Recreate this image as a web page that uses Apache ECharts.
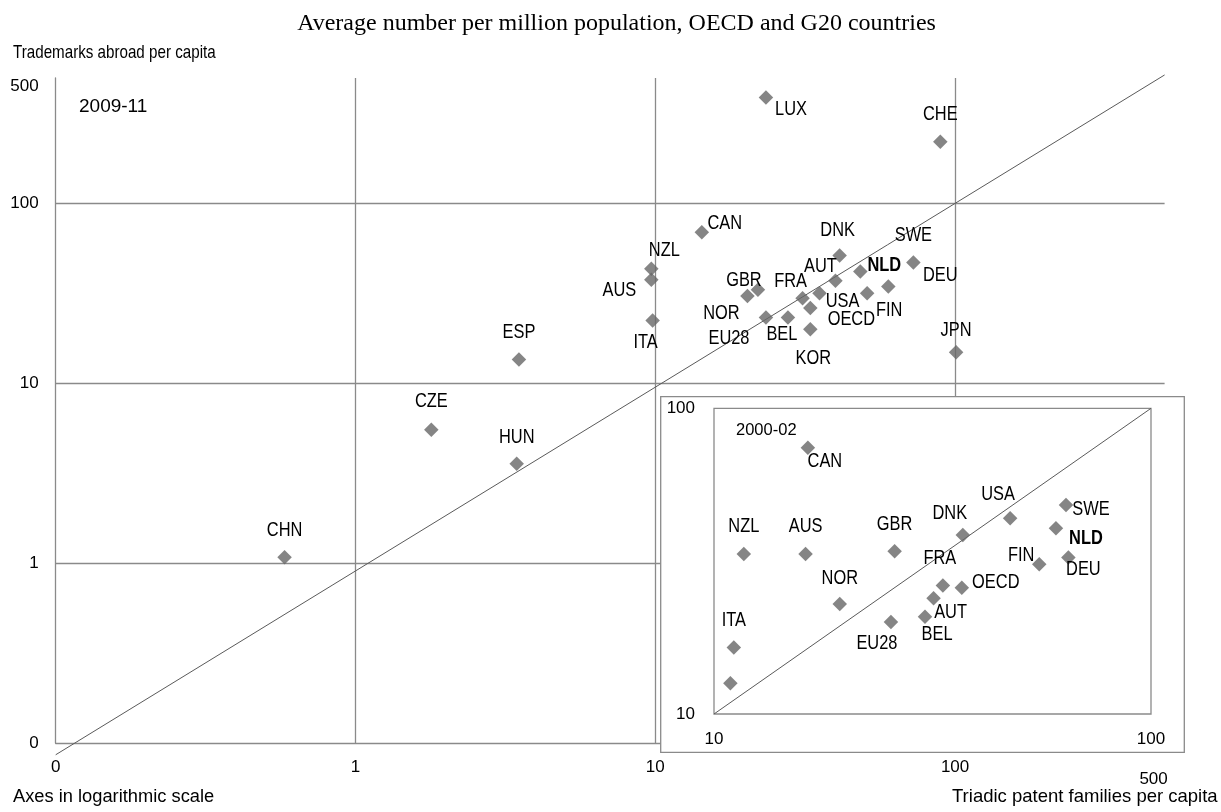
<!DOCTYPE html>
<html>
<head>
<meta charset="utf-8">
<script src="https://cdn.jsdelivr.net/npm/echarts@6/dist/echarts.min.js"></script>
<style>
  html, body { margin: 0; padding: 0; background: #fff; }
  #chart { width: 1221px; height: 812px; }
</style>
</head>
<body>
<div id="chart"></div>
<script>
// Average per million population, 2009-11
const countries2011 = ['LUX', 'CHE', 'CAN', 'NZL', 'AUS', 'ITA', 'GBR', 'NOR', 'EU28', 'BEL', 'KOR', 'FRA', 'OECD',
  'USA', 'AUT', 'DNK', 'NLD', 'FIN', 'DEU', 'SWE', 'JPN', 'ESP', 'CZE', 'HUN', 'CHN'];
const patents2011 = [23.4, 89.3, 14.3, 9.7, 9.7, 9.8, 22.0, 20.3, 23.4, 27.7, 32.9, 31.0, 32.9,
  35.3, 39.9, 41.2, 48.3, 50.9, 59.9, 72.6, 100.8, 3.51, 1.79, 3.45, 0.58];
const trademarks2011 = [390, 221, 69.3, 43.4, 37.7, 22.4, 33.2, 30.6, 23.3, 23.3, 20.0, 29.8, 26.3,
  31.7, 37.3, 51.4, 41.9, 31.7, 34.6, 47.0, 14.9, 13.6, 5.53, 3.58, 1.08];

// Average per million population, 2000-02
const countries2002 = ['CAN', 'NZL', 'AUS', 'GBR', 'NOR', 'EU28', 'ITA', '', 'BEL', 'AUT', 'FRA', 'OECD',
  'DNK', 'USA', 'FIN', 'NLD', 'SWE', 'DEU'];
const patents2002 = [16.4, 11.7, 16.2, 25.9, 19.4, 25.4, 11.1, 10.9, 30.4, 31.8, 33.4, 36.9,
  37.1, 47.6, 55.5, 60.6, 63.9, 64.7];
const trademarks2002 = [74.3, 33.4, 33.4, 34.1, 22.9, 20.0, 16.5, 12.6, 20.8, 23.9, 26.3, 25.9,
  38.5, 43.7, 30.9, 40.5, 48.3, 32.5];

// Parity reference lines
const parity2011 = [[0.1, 0.086], [500, 520]];
const parity2002 = [[10, 10], [100, 100]];

// Tick labels of the main log axes
const mainTickValues = [0.1, 1, 10, 100, 500];
const mainTickLabels = ['0', '1', '10', '100', '500'];

// Label placement (pixel offsets from each marker)
const labelOffsets2011 = [[25, 12], [0, -27], [23, -9], [13, -18], [-32, 11], [-7, 22], [-14, -9], [-26, 17],
  [-37, 21], [-6, 17], [3, 29], [-12, -17], [41, 12], [23, 8], [-15, -14], [-2, -25], [24, -6], [22, 17],
  [52, -11], [0, -27], [0, -22], [0, -27], [0, -28], [0, -26], [0, -27]];
const labelOffsets2002 = [[17, 14], [0, -27], [0, -27], [0, -27], [0, -26], [-14, 22], [0, -27], [0, 0],
  [12, 18], [17, 14], [-3, -27], [34, -5], [-13, -22], [-12, -24], [-18, -9], [30, 10], [25, 5], [15, 12]];

const GRID = '#8a8a8a';
const MARK = '#666666';
const SANS = "'Liberation Sans', Arial, sans-serif";
const SERIF = "'Liberation Serif', 'Times New Roman', serif";
const CONDENSE = 0.82;   // horizontal squeeze for the narrow label face

function pairs(xs, ys) {
  return xs.map((x, i) => [x, ys[i]]);
}

// Country codes drawn next to their markers, in a condensed face
function labelRenderer(names, offsets) {
  return function (params, api) {
    const i = params.dataIndex;
    const p = api.coord([api.value(0), api.value(1)]);
    const off = offsets[i];
    return {
      type: 'text',
      x: p[0] + off[0],
      y: p[1] + off[1],
      scaleX: CONDENSE,
      silent: true,
      style: {
        text: names[i],
        fontFamily: SANS,
        fontSize: 20,
        fontWeight: names[i] === 'NLD' ? 'bold' : 'normal',
        fill: '#000',
        align: 'center',
        verticalAlign: 'middle'
      }
    };
  };
}

function mainTickFormatter(v) {
  const i = mainTickValues.findIndex(t => Math.abs(t - v) / t < 1e-6);
  const s = i >= 0 ? mainTickLabels[i] : '';
  return v >= 500 ? '{edge|' + s + '}' : s;
}

const tickLabel = { color: '#000', fontFamily: SANS, fontSize: 17 };

const chart = echarts.init(document.getElementById('chart'), null, { renderer: 'canvas' });

chart.setOption({
  animation: false,
  backgroundColor: '#fff',
  grid: [
    { left: 55.7, top: 78, width: 1108.9, height: 665, outerBoundsMode: 'none' },
    { left: 714, top: 408.3, width: 437, height: 305.7, show: true, borderColor: GRID, borderWidth: 1.3,
      backgroundColor: 'transparent', z: 11, outerBoundsMode: 'none' }
  ],
  xAxis: [
    {
      gridIndex: 0, type: 'log', logBase: 10, min: 0.1, max: 500,
      axisLine: { show: true, lineStyle: { color: GRID, width: 1.3 } },
      axisTick: { show: false },
      splitLine: { show: true, showMinLine: false, showMaxLine: false, lineStyle: { color: GRID, width: 1.3 } },
      axisLabel: Object.assign({
        show: true, showMinLabel: true, showMaxLabel: true, margin: 16, formatter: mainTickFormatter,
        rich: { edge: Object.assign({ padding: [12, 22, 0, 0] }, tickLabel) }
      }, tickLabel)
    },
    {
      gridIndex: 1, type: 'log', logBase: 10, min: 10, max: 100, z: 11,
      axisLine: { show: false }, axisTick: { show: false }, splitLine: { show: false },
      axisLabel: Object.assign({ show: true, showMinLabel: true, showMaxLabel: true, margin: 17 }, tickLabel)
    }
  ],
  yAxis: [
    {
      gridIndex: 0, type: 'log', logBase: 10, min: 0.1, max: 500,
      axisLine: { show: true, lineStyle: { color: GRID, width: 1.3 } },
      axisTick: { show: false },
      splitLine: { show: true, showMinLine: false, showMaxLine: false, lineStyle: { color: GRID, width: 1.3 } },
      axisLabel: Object.assign({
        show: true, showMinLabel: true, showMaxLabel: true, margin: 17, formatter: mainTickFormatter,
        rich: { edge: Object.assign({ padding: [16, 0, 0, 0] }, tickLabel) }
      }, tickLabel)
    },
    {
      gridIndex: 1, type: 'log', logBase: 10, min: 10, max: 100, z: 11,
      axisLine: { show: false }, axisTick: { show: false }, splitLine: { show: false },
      axisLabel: Object.assign({ show: true, showMinLabel: true, showMaxLabel: true, margin: 19 }, tickLabel)
    }
  ],
  graphic: [
    {
      type: 'rect', z: 10, zlevel: 0,
      shape: { x: 660.7, y: 396.7, width: 523.6, height: 355.6 },
      style: { fill: '#fff', stroke: GRID, lineWidth: 1.3 }
    },
    {
      type: 'text', z: 20, x: 616.5, y: 24,
      style: { text: 'Average number per million population, OECD and G20 countries', fontFamily: SERIF,
        fontSize: 24, fill: '#000', align: 'center', verticalAlign: 'middle' }
    },
    {
      type: 'text', z: 20, x: 13, y: 53, scaleX: CONDENSE,
      style: { text: 'Trademarks abroad per capita', fontFamily: SANS, fontSize: 18.5, fill: '#000',
        align: 'left', verticalAlign: 'middle' }
    },
    {
      type: 'text', z: 20, x: 79, y: 107,
      style: { text: '2009-11', fontFamily: SANS, fontSize: 19, fill: '#000', align: 'left', verticalAlign: 'middle' }
    },
    {
      type: 'text', z: 20, x: 736, y: 430,
      style: { text: '2000-02', fontFamily: SANS, fontSize: 16.5, fill: '#000', align: 'left', verticalAlign: 'middle' }
    },
    {
      type: 'text', z: 20, x: 13, y: 797,
      style: { text: 'Axes in logarithmic scale', fontFamily: SANS, fontSize: 18.3, fill: '#000',
        align: 'left', verticalAlign: 'middle' }
    },
    {
      type: 'text', z: 20, x: 952, y: 797,
      style: { text: 'Triadic patent families per capita', fontFamily: SANS, fontSize: 18.5, fill: '#000',
        align: 'left', verticalAlign: 'middle' }
    }
  ],
  series: [
    {
      type: 'line', xAxisIndex: 0, yAxisIndex: 0, data: parity2011, symbol: 'none', clip: false, silent: true,
      lineStyle: { color: '#5a5a5a', width: 1 }, z: 2
    },
    {
      type: 'scatter', xAxisIndex: 0, yAxisIndex: 0, symbol: 'diamond', symbolSize: 14.5,
      itemStyle: { color: MARK }, z: 3,
      data: pairs(patents2011, trademarks2011)
    },
    {
      type: 'custom', coordinateSystem: 'cartesian2d', xAxisIndex: 0, yAxisIndex: 0, z: 4, silent: true,
      clip: false, encode: { x: 0, y: 1 },
      data: pairs(patents2011, trademarks2011),
      renderItem: labelRenderer(countries2011, labelOffsets2011)
    },
    {
      type: 'line', xAxisIndex: 1, yAxisIndex: 1, data: parity2002, symbol: 'none', silent: true,
      lineStyle: { color: '#5a5a5a', width: 1 }, z: 12
    },
    {
      type: 'scatter', xAxisIndex: 1, yAxisIndex: 1, symbol: 'diamond', symbolSize: 14.5,
      itemStyle: { color: MARK }, z: 13,
      data: pairs(patents2002, trademarks2002)
    },
    {
      type: 'custom', coordinateSystem: 'cartesian2d', xAxisIndex: 1, yAxisIndex: 1, z: 14, silent: true,
      clip: false, encode: { x: 0, y: 1 },
      data: pairs(patents2002, trademarks2002),
      renderItem: labelRenderer(countries2002, labelOffsets2002)
    }
  ]
});
</script>
</body>
</html>
